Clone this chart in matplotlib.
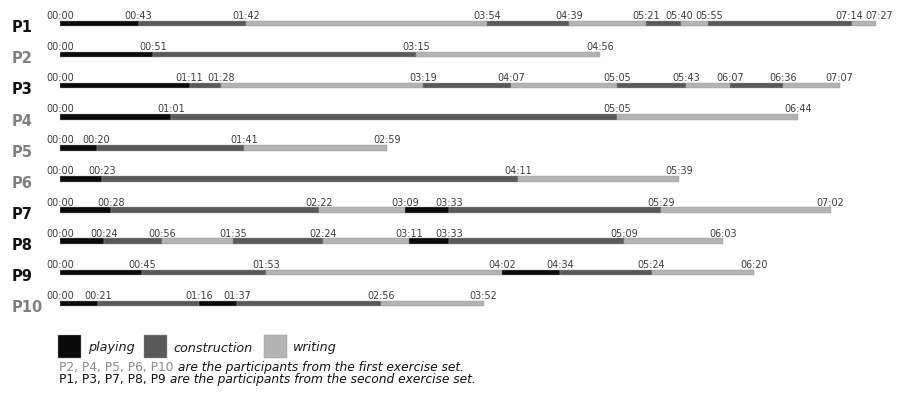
import matplotlib
matplotlib.use("Agg")
import matplotlib.pyplot as plt
from matplotlib import transforms
from matplotlib.patches import Rectangle

plt.rcParams['font.family'] = ['DejaVu Sans']

participants = ["P1", "P2", "P3", "P4", "P5", "P6", "P7", "P8", "P9", "P10"]
second_set = ["P1", "P3", "P7", "P8", "P9"]

# segment boundaries (mm:ss) and activities for each participant
times = {
    "P1": ["00:00", "00:43", "01:42", "03:54", "04:39", "05:21", "05:40", "05:55", "07:14", "07:27"],
    "P2": ["00:00", "00:51", "03:15", "04:56"],
    "P3": ["00:00", "01:11", "01:28", "03:19", "04:07", "05:05", "05:43", "06:07", "06:36", "07:07"],
    "P4": ["00:00", "01:01", "05:05", "06:44"],
    "P5": ["00:00", "00:20", "01:41", "02:59"],
    "P6": ["00:00", "00:23", "04:11", "05:39"],
    "P7": ["00:00", "00:28", "02:22", "03:09", "03:33", "05:29", "07:02"],
    "P8": ["00:00", "00:24", "00:56", "01:35", "02:24", "03:11", "03:33", "05:09", "06:03"],
    "P9": ["00:00", "00:45", "01:53", "04:02", "04:34", "05:24", "06:20"],
    "P10": ["00:00", "00:21", "01:16", "01:37", "02:56", "03:52"],
}
activities = {
    "P1": ["playing", "construction", "writing", "construction", "writing", "construction", "writing", "construction", "writing"],
    "P2": ["playing", "construction", "writing"],
    "P3": ["playing", "construction", "writing", "construction", "writing", "construction", "writing", "construction", "writing"],
    "P4": ["playing", "construction", "writing"],
    "P5": ["playing", "construction", "writing"],
    "P6": ["playing", "construction", "writing"],
    "P7": ["playing", "construction", "writing", "playing", "construction", "writing"],
    "P8": ["playing", "construction", "writing", "construction", "writing", "playing", "construction", "writing"],
    "P9": ["playing", "construction", "writing", "playing", "construction", "writing"],
    "P10": ["playing", "construction", "playing", "construction", "writing"],
}
legend_labels = ["playing", "construction", "writing"]
colors = {"playing": "#0a0a0a", "construction": "#595959", "writing": "#b3b3b3"}

def to_sec(s):
    m, ss = s.split(":")
    return int(m) * 60 + int(ss)

W, H = 902, 394
fig = plt.figure(figsize=(W / 100, H / 100), dpi=100)

# axes placed in pixel terms
px_per_s = 1.826
x0_px, x1_px = 60, 890
row0_px, row_step = 23.5, 31.1
top_px, bot_px = 2, 330
ax = fig.add_axes([x0_px / W, 1 - bot_px / H, (x1_px - x0_px) / W, (bot_px - top_px) / H])
ax.set_xlim(0, (x1_px - x0_px) / px_per_s)
ax.set_ylim((bot_px - row0_px) / row_step, (top_px - row0_px) / row_step)
ax.axis("off")

bar_h = 5.5 / row_step
label_tr = transforms.blended_transform_factory(fig.transFigure, ax.transData)
min_sep_px = 30.0

for i, p in enumerate(participants):
    secs = [to_sec(t) for t in times[p]]
    starts = secs[:-1]
    widths = [b - a for a, b in zip(secs[:-1], secs[1:])]
    cols = [colors[a] for a in activities[p]]
    ax.barh([i] * len(starts), widths, left=starts, height=bar_h, color=cols,
            edgecolor="#9a9a9a", linewidth=0.3)
    # small horizontal nudges so that neighbouring time labels do not collide
    offs = [0.0] * len(secs)
    for j in range(len(secs) - 1):
        dx = (secs[j + 1] - secs[j]) * px_per_s
        if dx < min_sep_px:
            d = (min_sep_px - dx) / 2
            offs[j] -= d
            offs[j + 1] += d
    for t, s, o in zip(times[p], secs, offs):
        ax.annotate(t, xy=(s, i - 4.5 / row_step), xytext=(o, 0),
                    textcoords="offset pixels", ha="center", va="baseline",
                    fontsize=6.9, color="#3a3a3a")
    is_second = p in second_set
    ax.text(12 / W, i + 8.8 / row_step, p, transform=label_tr, ha="left",
            va="baseline", fontsize=10.5, fontweight="bold",
            color="#111111" if is_second else "#808080")

# legend
sq_x = [58, 144, 264]
txt_x = [88, 173, 293]
for lab, sx, tx in zip(legend_labels, sq_x, txt_x):
    fig.patches.append(Rectangle((sx / W, 1 - 358 / H), 23 / W, 23 / H,
                                 transform=fig.transFigure, facecolor=colors[lab],
                                 edgecolor="#999999", linewidth=0.3))
    fig.text(tx / W, 1 - 351.5 / H, lab, ha="left", va="baseline",
             fontsize=9.2, style="italic", color="#1a1a1a")

note_fs = 8.8
t1 = fig.text(59 / W, 1 - 370.5 / H, "P2, P4, P5, P6, P10", ha="left",
              va="baseline", fontsize=note_fs, color="#8a8a8a")
ax.annotate(" are the participants from the first exercise set.", xy=(1, 0),
            xycoords=t1, ha="left", va="bottom", fontsize=note_fs, style="italic",
            color="#111111", annotation_clip=False)
t2 = fig.text(59 / W, 1 - 383 / H, "P1, P3, P7, P8, P9", ha="left",
              va="baseline", fontsize=note_fs, color="#111111")
ax.annotate(" are the participants from the second exercise set.", xy=(1, 0),
            xycoords=t2, ha="left", va="bottom", fontsize=note_fs, style="italic",
            color="#111111", annotation_clip=False)

fig.savefig("out.png", dpi=100)
